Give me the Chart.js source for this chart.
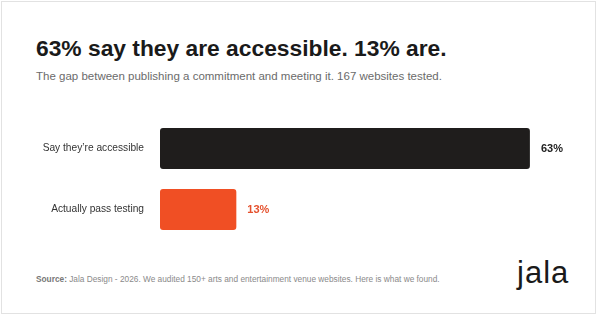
<!DOCTYPE html>
<html>
<head>
<meta charset="utf-8">
<script src="https://cdn.jsdelivr.net/npm/chart.js@4.4.1/dist/chart.umd.min.js"></script>
<style>
  html, body { margin: 0; padding: 0; background: #fff; }
  #wrap { position: relative; width: 600px; height: 315px; overflow: hidden; background: #fff; font-family: "Liberation Sans", Arial, Helvetica, sans-serif; }
  #frame { position: absolute; left: 1px; top: 1px; width: 593px; height: 311px; border: 1px solid #e2e2e2; }
  .t { position: absolute; white-space: nowrap; line-height: 1; margin: 0; }
  #title { left: 36px; top: 36.7px; font-size: 22.8px; font-weight: bold; color: #1a1a1a; }
  #subtitle { left: 36px; top: 71px; font-size: 11.5px; color: #6b6b6b; }
  #footer { left: 36px; top: 275px; font-size: 8.3px; color: #8a8a8a; }
  #footer b { color: #777; }
  #logo { left: 517px; top: 256.8px; font-size: 31px; color: #1a1a1a; letter-spacing: 1px; }
  #chart { position: absolute; left: 0; top: 118px; display: block; width: 600px; height: 122px; }
</style>
</head>
<body>
<div id="wrap">
  <div id="frame"></div>
  <div class="t" id="title">63% say they are accessible. 13% are.</div>
  <div class="t" id="subtitle">The gap between publishing a commitment and meeting it. 167 websites tested.</div>
  <canvas id="chart" width="600" height="122"></canvas>
  <div class="t" id="footer"><b>Source:</b> Jala Design - 2026. We audited 150+ arts and entertainment venue websites. Here is what we found.</div>
  <div class="t" id="logo">jala</div>
</div>
<script>
const categories = ["Say they\u2019re accessible", "Actually pass testing"];
const values = [63, 13];
const valueSuffix = "%";

const barColors = ["#1f1d1c", "#f04f24"];
const labelColors = ["#222222", "#e5512d"];

const valueLabels = {
  id: "valueLabels",
  afterDatasetsDraw(chart) {
    const ctx = chart.ctx;
    const meta = chart.getDatasetMeta(0);
    ctx.save();
    ctx.font = "bold 11px 'Liberation Sans', Arial, sans-serif";
    ctx.textBaseline = "middle";
    ctx.textAlign = "left";
    meta.data.forEach((bar, i) => {
      ctx.fillStyle = labelColors[i];
      ctx.fillText(values[i] + valueSuffix, bar.x + 11, bar.y + 0.5);
    });
    ctx.restore();
  }
};

new Chart(document.getElementById("chart"), {
  type: "bar",
  data: {
    labels: categories,
    datasets: [{
      data: values,
      backgroundColor: barColors,
      borderRadius: 3,
      borderSkipped: false,
      categoryPercentage: 1,
      barPercentage: 41 / 61
    }]
  },
  options: {
    indexAxis: "y",
    responsive: false,
    animation: false,
    devicePixelRatio: 1,
    layout: { autoPadding: false, padding: { left: 0, right: 29, top: 0, bottom: 0 } },
    plugins: { legend: { display: false }, title: { display: false }, tooltip: { enabled: false } },
    scales: {
      x: { display: false, min: 0, max: 70 },
      y: {
        grid: { display: false, drawTicks: false },
        border: { display: false },
        ticks: {
          padding: 16,
          color: "#333333",
          font: { family: "'Liberation Sans', Arial, sans-serif", size: 10.2 }
        },
        afterFit(scale) {
          scale.width = 160;
          scale.paddingTop = 0;
          scale.paddingBottom = 0;
        }
      }
    }
  },
  plugins: [valueLabels]
});
</script>
</body>
</html>
